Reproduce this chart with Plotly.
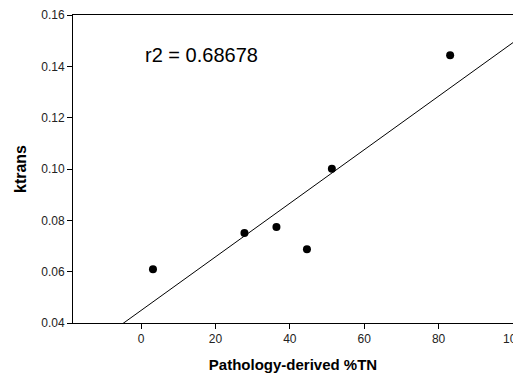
import numpy as np
import plotly.graph_objects as go

# Data
pathology_tn = [3.2, 27.8, 36.4, 44.6, 51.3, 83.1]
ktrans = [0.0609, 0.0751, 0.0774, 0.0687, 0.1001, 0.1443]
r2_label = "r2 = 0.68678"
x_tick_vals = [0, 20, 40, 60, 80, 100]
y_tick_vals = [0.04, 0.06, 0.08, 0.10, 0.12, 0.14, 0.16]

X_RANGE = [-18.3, 100]
Y_RANGE = [0.04, 0.16]

slope, intercept = np.polyfit(pathology_tn, ktrans, 1)
fit_x = np.array(X_RANGE)
fit_y = slope * fit_x + intercept

FONT = "Liberation Sans, Arial, sans-serif"

fig = go.Figure()
fig.add_trace(go.Scatter(
    x=fit_x, y=fit_y, mode="lines",
    line=dict(color="black", width=1), showlegend=False, hoverinfo="skip"))
fig.add_trace(go.Scatter(
    x=pathology_tn, y=ktrans, mode="markers",
    marker=dict(color="black", size=8), showlegend=False))

fig.add_annotation(
    x=0.5, y=0.1445, xref="x", yref="y", text=r2_label, showarrow=False,
    xanchor="left", yanchor="middle",
    font=dict(family=FONT, size=20, color="black"))

axis_common = dict(
    showgrid=False, zeroline=False, showline=True, linecolor="black",
    linewidth=1, mirror=True, ticks="outside", ticklen=5, tickcolor="black",
    tickfont=dict(family=FONT, size=12, color="#222"),
    ticklabeloverflow="allow",
    automargin=False)

fig.update_xaxes(
    range=X_RANGE, tickvals=x_tick_vals, ticktext=[str(v) for v in x_tick_vals],
    title=dict(text="<b>Pathology-derived %TN</b>", standoff=14,
               font=dict(family=FONT, size=15, color="black")),
    **axis_common)
fig.update_yaxes(
    range=Y_RANGE, tickvals=y_tick_vals, ticktext=[f"{v:.2f}" for v in y_tick_vals],
    title=dict(text="<b>ktrans</b>", standoff=10,
               font=dict(family=FONT, size=16, color="black")),
    **axis_common)

# page body has an 8px default margin, so the figure is sized/offset to fit
fig.update_layout(
    width=513, height=367,
    margin=dict(l=65, r=8, t=7, b=52),
    plot_bgcolor="white", paper_bgcolor="white",
)

fig.write_html("out.html")
